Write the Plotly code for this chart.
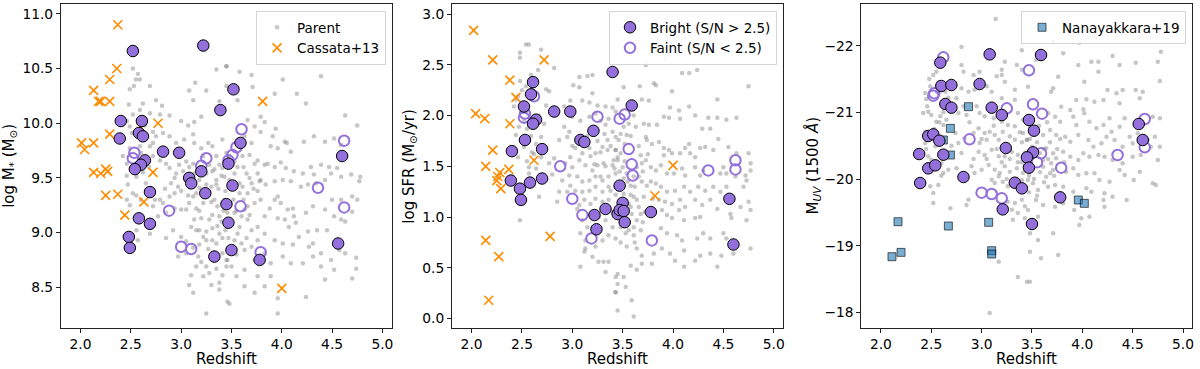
import plotly.graph_objects as go

# ---------------- Panel 1: stellar mass ----------------
parent_mass_pts = [
    (3.35,10.49),(3.45,10.52),(2.52,10.50),(2.57,10.45),(2.55,10.40),(2.59,10.40),(2.53,10.34),(2.49,10.31),
    (2.69,10.34),(3.14,10.37),(3.08,10.30),(3.25,10.30),(3.45,10.34),(3.38,10.20),(2.48,10.17),(2.62,10.18),
    (2.75,10.21),(2.81,10.16),(3.12,10.21),(2.59,10.12),(2.52,10.08),(2.69,10.09),(2.79,10.08),(2.885,10.07),
    (3.00,10.02),(3.07,9.98),(3.13,10.01),(3.20,10.06),(2.46,10.02),(2.49,9.97),(2.51,9.91),(2.555,9.89),
    (2.64,9.98),(2.72,9.92),(2.82,9.91),(2.75,9.88),(2.885,9.88),(2.95,9.82),(3.03,9.85),(3.12,9.90),
    (3.13,9.82),(3.20,9.77),(3.27,9.82),(3.31,9.79),(3.41,9.85),(3.35,9.70),(3.45,9.73),(2.95,9.74),
    (2.69,9.79),(2.72,9.82),(2.59,9.79),(2.49,9.77),(2.42,9.70),(2.46,9.63),(2.60,9.73),(2.72,9.70),
    (2.79,9.66),(2.85,9.63),(2.885,9.59),(2.95,9.54),(2.935,9.50),(3.02,9.56),(3.08,9.60),(3.12,9.63),
    (3.13,9.54),(3.18,9.48),(3.25,9.54),(3.31,9.56),(3.35,9.48),(3.41,9.59),(3.43,9.51),(3.35,9.44),
    (3.30,9.42),(3.25,9.44),(3.18,9.41),(3.15,9.36),(3.12,9.33),(3.07,9.34),(3.00,9.38),(2.97,9.42),
    (2.935,9.36),(2.885,9.33),(2.82,9.27),(2.79,9.30),(2.72,9.24),(2.74,9.30),(2.65,9.39),(2.60,9.30),
    (2.555,9.34),(2.47,9.44),(2.46,9.30),(2.49,9.25),(2.52,9.36),(2.46,9.52),(2.555,9.51),(2.65,9.45),
    (2.77,9.15),(2.85,9.18),(2.935,9.22),(3.00,9.21),(3.05,9.21),(3.08,9.27),(3.15,9.22),(3.22,9.27),
    (3.30,9.28),(3.36,9.24),(3.43,9.30),(3.46,9.18),(3.38,9.15),(3.31,9.16),(3.28,9.12),(3.20,9.13),
    (3.13,9.12),(3.10,9.05),(3.15,9.02),(3.18,9.02),(3.25,9.01),(3.31,9.04),(3.38,8.99),(3.41,8.95),
    (3.35,8.90),(3.31,8.93),(3.25,8.93),(3.18,8.89),(3.12,8.86),(3.05,8.92),(3.00,8.96),(2.92,9.02),
    (2.85,8.95),(2.57,8.93),(2.555,9.02),(2.69,8.99),(3.17,8.78),(3.20,8.73),(3.25,8.69),(3.28,8.63),
    (3.35,8.67),(3.41,8.61),(3.45,8.69),(3.38,8.54),(3.22,8.60),(3.15,8.69),(3.10,8.61),(3.08,8.52),
    (3.12,8.45),(3.46,8.37),(3.25,8.26),(3.30,8.52),(3.38,8.48),(3.45,8.75),(3.41,8.81),(3.05,8.81),
    (2.97,8.78),
    (3.45,10.52),(3.58,10.47),(3.70,10.44),(4.01,10.40),(4.39,10.43),(3.56,10.21),(3.71,10.33),(3.93,10.27),
    (4.15,10.27),(4.24,10.18),(4.63,10.07),(4.75,9.98),(3.94,9.95),(3.83,10.01),(3.79,10.06),(3.66,10.03),
    (3.73,9.97),(3.79,9.92),(3.91,9.88),(4.03,9.83),(4.05,9.82),(4.22,9.83),(4.32,9.88),(4.43,9.83),
    (4.52,9.86),(4.59,9.80),(3.96,9.77),(4.09,9.74),(3.89,9.79),(3.63,9.88),(3.70,9.82),(3.68,9.71),
    (3.61,9.70),(3.76,9.66),(3.73,9.63),(3.83,9.62),(3.86,9.63),(3.93,9.60),(3.99,9.64),(4.04,9.59),
    (4.12,9.56),(4.21,9.54),(4.29,9.60),(4.39,9.62),(4.47,9.60),(4.55,9.59),(4.59,9.51),(4.49,9.54),
    (4.43,9.48),(4.32,9.53),(4.34,9.45),(4.26,9.44),(4.19,9.42),(4.09,9.47),(4.01,9.48),(3.93,9.47),
    (3.84,9.44),(3.78,9.47),(3.70,9.45),(3.61,9.42),(3.58,9.36),(3.66,9.36),(3.76,9.38),(3.79,9.30),
    (3.73,9.27),(3.63,9.21),(3.60,9.15),(3.66,9.12),(3.70,9.02),(3.76,9.05),(3.83,9.15),(3.88,9.22),
    (3.93,9.30),(3.96,9.33),(3.99,9.27),(4.06,9.21),(4.11,9.22),(4.12,9.15),(4.03,9.12),(3.96,9.13),
    (4.07,9.05),(4.14,9.09),(4.24,9.18),(4.31,9.24),(4.43,9.21),(4.50,9.30),(4.59,9.30),(4.70,9.33),
    (4.75,9.30),(4.78,9.51),(4.77,9.47),(4.69,9.53),(4.70,9.19),(4.63,9.10),(4.59,9.12),(4.52,9.15),
    (4.45,9.02),(4.35,9.02),(4.26,9.01),(4.17,8.96),(4.11,8.89),(4.01,8.90),(3.93,8.93),(3.83,8.99),
    (3.76,8.93),(3.70,8.87),(3.63,8.84),(3.56,8.99),(3.53,8.93),(3.46,8.75),(3.50,8.69),(3.63,8.66),
    (3.73,8.75),(3.83,8.81),(3.89,8.72),(4.01,8.78),(4.09,8.72),(4.21,8.72),(4.31,8.78),(4.39,8.81),
    (4.39,8.69),(4.49,8.75),(4.57,8.84),(4.63,8.81),(4.74,8.67),(4.74,8.77),(4.70,8.58),(4.52,8.66),
    (4.43,8.57),(4.24,8.41),(3.96,8.40),(3.96,8.26),(3.83,8.51),(3.73,8.45),(3.63,8.51),(3.55,8.60),
    (3.48,8.35),(3.76,8.60),(3.89,8.60),(4.27,8.87),(4.31,8.90),(3.50,9.45),(3.53,9.54),(3.56,9.60),
    (3.48,9.70),(3.65,9.54),(3.76,9.54),(3.79,9.48),(3.53,9.18),(3.58,9.05),
    (3.22,9.70),(3.28,9.62),(3.33,9.58),(3.38,9.62),(3.40,9.52),(3.37,9.40),(3.44,9.38),(3.42,9.20),
    (3.40,9.10),(3.36,9.06),(3.44,9.02),(3.47,8.95),(3.33,8.82),(3.27,8.85),(3.22,8.96),(3.18,9.20),
    (3.10,9.43),(3.05,9.48),(3.27,9.35),(3.33,9.30),(3.48,9.48),(3.52,9.30),(3.55,9.20),(3.58,9.45),
    (3.62,9.30),(3.66,9.24),(3.68,9.16),(3.72,9.40),(3.53,9.65),(3.62,9.60),(3.68,9.50),(3.55,8.80),
    (3.60,8.90),(3.65,8.95),(3.05,9.65),(2.98,9.62),(2.90,9.45),(2.84,9.40),(2.62,9.55),(2.68,9.60),
]
bright_mass_pts = [
    (2.52,10.66),(3.22,10.71),(3.52,10.31),(3.39,10.12),(2.40,10.02),(2.61,10.02),(2.39,9.86),(2.58,9.91),
    (2.62,9.88),(3.59,9.82),(2.82,9.74),(2.98,9.73),(2.64,9.66),(2.60,9.62),(2.54,9.58),(3.47,9.63),
    (3.08,9.50),(3.10,9.45),(3.20,9.56),(3.51,9.43),(2.69,9.37),(3.24,9.36),(3.45,9.26),(2.58,9.13),
    (2.69,9.08),(3.47,9.09),(2.48,8.96),(2.49,8.86),(3.33,8.78),(3.50,8.84),(3.78,8.75),(4.60,9.70),
    (4.56,8.90),
]
faint_mass_pts = [
    (3.60,9.945),(4.62,9.84),(2.535,9.73),(2.52,9.68),(3.55,9.78),(3.51,9.71),(3.47,9.66),(3.25,9.68),
    (3.20,9.61),(2.88,9.20),(3.59,9.24),(4.36,9.41),(4.62,9.23),(3.00,8.87),(3.10,8.85),(3.79,8.82),
]
cassata_mass_pts = [
    (2.37,10.90),(2.36,10.50),(2.29,10.40),(2.13,10.30),(2.18,10.20),(2.20,10.20),(2.29,10.20),(2.77,10.00),
    (2.60,9.96),(2.29,9.90),(2.01,9.82),(2.04,9.76),(2.13,9.82),(2.13,9.55),(2.20,9.54),(2.25,9.58),
    (2.27,9.56),(2.72,9.55),(2.25,9.34),(2.37,9.35),(2.63,9.28),(2.44,9.16),(3.81,10.20),(4.00,8.49),
]

# ---------------- Panel 2: SFR ----------------
parent_sfr_pts = [
    (2.54,2.70),(2.57,2.70),(2.48,2.62),(2.48,2.57),(2.69,2.65),(2.82,2.47),(2.59,2.40),(2.48,2.34),
    (2.54,2.29),(2.74,2.26),(2.77,2.24),(3.07,2.38),(3.15,2.39),(3.20,2.40),(3.01,2.30),(3.07,2.28),
    (3.20,2.22),(3.45,2.16),(3.40,2.08),(3.33,2.09),(3.25,2.10),(3.17,2.13),(3.10,2.15),(2.98,2.15),
    (2.92,2.09),(2.44,2.16),(2.42,2.09),(2.46,2.19),(2.74,2.10),(2.67,2.00),(2.52,1.95),(2.47,1.89),
    (2.55,1.87),(2.44,1.81),(2.49,1.76),(2.59,1.80),(2.64,1.72),(2.69,1.79),(2.52,1.69),(2.60,1.64),
    (2.69,1.59),(2.46,1.59),(2.77,1.53),(2.82,1.58),(2.57,1.49),(2.64,1.48),(2.57,1.43),(2.92,1.89),
    (2.97,1.84),(2.95,1.79),(2.87,1.76),(3.00,1.99),(3.08,1.95),(3.17,1.99),(3.23,2.02),(3.28,1.95),
    (3.33,1.91),(3.36,1.97),(3.40,1.84),(3.43,1.79),(3.35,1.76),(3.30,1.69),(3.28,1.64),(3.35,1.66),
    (3.43,1.66),(3.23,1.63),(3.17,1.68),(3.10,1.63),(3.03,1.68),(2.98,1.59),(2.93,1.53),(3.00,1.49),
    (3.07,1.56),(3.13,1.51),(3.20,1.46),(3.25,1.51),(3.31,1.53),(3.40,1.51),(3.45,1.56),(3.43,1.43),
    (3.36,1.40),(3.30,1.36),(3.23,1.40),(3.17,1.36),(3.10,1.35),(3.05,1.40),(2.97,1.41),(2.90,1.36),
    (2.98,1.31),(3.03,1.26),(3.10,1.25),(3.17,1.26),(3.23,1.30),(3.30,1.25),(3.38,1.26),(3.43,1.22),
    (3.36,1.17),(3.30,1.15),(3.23,1.18),(3.18,1.13),(3.12,1.17),(3.07,1.12),(2.87,1.25),(2.85,1.15),
    (2.67,1.20),(2.72,1.36),(2.48,0.97),(3.10,0.97),(3.15,0.90),(3.08,0.84),(3.13,0.77),(3.26,1.00),
    (3.33,0.97),(3.40,0.90),(3.36,0.82),(3.43,0.79),(3.30,0.77),(3.23,0.71),(3.13,0.69),(3.20,0.61),
    (3.12,0.66),(3.08,0.51),(3.26,0.56),(3.31,0.56),(3.36,0.56),(3.33,0.46),(3.43,0.41),(3.45,0.34),
    (3.43,0.26),(3.45,0.08),
    (3.73,2.50),(3.92,2.56),(4.16,2.42),(4.24,2.45),(4.09,2.42),(3.81,2.32),(3.83,2.30),(3.67,2.29),
    (3.51,2.28),(3.99,2.24),(4.75,2.29),(3.69,2.16),(3.76,2.15),(4.44,2.16),(3.97,2.08),(4.06,2.05),
    (4.16,2.09),(3.43,2.04),(3.61,2.00),(3.91,1.99),(3.96,1.98),(4.35,1.98),(4.44,1.98),(4.53,1.96),
    (4.63,1.98),(4.07,1.97),(4.22,2.00),(3.56,1.92),(3.63,1.89),(3.71,1.92),(3.76,1.91),(3.51,1.89),
    (3.84,1.91),(4.29,1.87),(4.37,1.87),(4.45,1.77),(3.48,1.82),(3.54,1.81),(3.46,1.76),(3.73,1.79),
    (3.74,1.76),(3.79,1.72),(3.86,1.74),(3.91,1.68),(3.96,1.66),(3.99,1.63),(3.91,1.61),(4.07,1.63),
    (4.12,1.68),(4.16,1.72),(4.17,1.63),(4.22,1.59),(4.27,1.68),(4.32,1.69),(4.40,1.66),(4.55,1.69),
    (4.63,1.63),(4.75,1.63),(3.43,1.66),(3.48,1.63),(3.41,1.56),(3.68,1.61),(3.69,1.53),(3.64,1.49),
    (3.73,1.56),(3.78,1.49),(3.83,1.46),(3.88,1.51),(3.94,1.43),(4.01,1.43),(4.09,1.48),(4.12,1.41),
    (4.22,1.49),(4.27,1.41),(4.30,1.46),(4.47,1.43),(4.50,1.49),(4.53,1.43),(4.62,1.40),(4.72,1.41),
    (4.77,1.46),(4.77,1.53),(3.51,1.38),(3.61,1.40),(3.69,1.35),(3.58,1.31),(3.74,1.31),(3.83,1.33),
    (3.88,1.30),(3.94,1.25),(4.02,1.26),(4.11,1.30),(4.17,1.25),(4.25,1.30),(4.32,1.26),(4.40,1.30),
    (4.47,1.25),(4.53,1.30),(4.70,1.30),(4.73,1.36),(3.61,1.20),(3.64,1.17),(3.71,1.20),(3.86,1.17),
    (3.92,1.15),(3.99,1.13),(4.07,1.17),(4.12,1.10),(4.22,1.17),(4.29,1.12),(4.37,1.17),(4.44,1.08),
    (4.67,1.10),(4.75,1.15),(4.77,1.07),(3.58,1.10),(3.59,1.03),(3.68,1.03),(3.64,0.97),(3.89,1.07),
    (3.94,1.02),(3.99,0.99),(4.06,1.07),(4.11,0.97),(4.22,0.99),(4.27,1.00),(4.58,0.99),(4.57,1.03),
    (4.73,0.97),(3.48,0.90),(3.56,0.87),(3.61,0.82),(3.68,0.87),(3.88,0.89),(3.94,0.84),(4.04,0.82),
    (4.09,0.77),(4.24,0.79),(4.30,0.84),(4.37,0.79),(4.50,0.84),(4.53,0.79),(4.77,0.69),(3.54,0.71),
    (3.64,0.69),(3.69,0.62),(3.81,0.64),(3.89,0.69),(3.97,0.64),(4.11,0.67),(4.27,0.62),(4.37,0.64),
    (4.48,0.62),(4.60,0.64),(3.58,0.52),(3.69,0.54),(3.79,0.54),(4.02,0.57),(4.22,0.57),(4.44,0.51),
    (4.11,0.51),(3.45,0.44),(3.51,0.41),(3.64,0.48),(3.53,0.31),(3.43,0.26),(3.59,0.18),(3.61,0.02),
    (3.45,1.59),(3.50,1.49),(3.54,1.43),(3.43,1.30),(3.51,1.23),(3.56,1.13),(3.46,1.00),(3.53,0.84),
    (3.61,0.90),
    (3.38,1.70),(3.42,1.48),(3.47,1.45),(3.52,1.55),(3.55,1.35),(3.58,1.22),(3.62,1.30),(3.66,1.40),
    (3.70,1.45),(3.66,1.10),(3.72,1.05),(3.70,0.95),(3.62,0.75),(3.56,0.95),(3.48,0.75),(3.40,1.05),
    (3.36,1.30),(3.33,1.50),(3.28,1.40),(3.22,1.52),(3.18,1.60),(3.15,1.80),(3.25,1.75),(3.32,1.82),
    (3.52,1.72),(3.58,1.80),(3.66,1.70),(3.75,1.62),(3.78,1.35),(3.80,1.18),(3.05,1.08),(3.00,1.70),
    (2.95,1.25),(2.80,1.42),(2.62,1.62),(2.55,1.55),(2.50,2.25),(2.56,2.05),(2.66,2.45),(2.72,1.92),
]
bright_sfr_pts = [
    (3.40,2.43),(2.61,2.33),(2.59,2.21),(2.52,2.09),(3.59,2.10),(2.82,2.04),(2.98,2.04),(2.64,1.96),
    (2.61,1.92),(2.53,1.76),(3.21,1.85),(3.08,1.76),(3.12,1.74),(2.40,1.65),(2.70,1.67),(2.39,1.36),
    (2.70,1.38),(2.58,1.34),(2.48,1.28),(2.49,1.17),(3.47,1.31),(3.50,1.14),(3.33,1.08),(3.45,1.03),
    (3.47,1.07),(3.51,1.06),(3.22,1.02),(3.78,1.05),(3.24,0.88),(3.52,0.95),(4.56,1.18),(4.60,0.73),
]
faint_sfr_pts = [
    (2.62,2.19),(2.52,1.98),(2.53,2.02),(3.25,1.99),(3.47,1.97),(3.52,2.01),(3.56,1.67),(3.59,1.52),
    (3.60,1.41),(2.88,1.50),(3.00,1.18),(3.10,1.02),(3.19,0.79),(3.79,0.77),(4.35,1.46),(4.62,1.56),
    (4.62,1.47),
]
cassata_sfr_pts = [
    (2.02,2.84),(2.21,2.55),(2.72,2.55),(2.38,2.35),(2.44,2.18),(2.04,2.02),(2.13,1.97),(2.38,1.92),
    (2.21,1.66),(2.14,1.50),(2.37,1.47),(2.28,1.44),(2.26,1.40),(2.25,1.36),(2.29,1.28),(2.62,1.56),
    (2.14,0.77),(2.27,0.61),(2.17,0.18),(2.78,0.81),(4.00,1.51),(3.82,1.21),
]

# ---------------- Panel 3: M_UV ----------------
parent_muv_pts = [
    (3.14,-22.40),(2.80,-21.98),(3.40,-21.93),(3.23,-21.76),(2.80,-21.71),(2.82,-21.61),(2.98,-21.61),
    (2.92,-21.56),(3.20,-21.64),(3.20,-21.56),(3.23,-21.46),(3.15,-21.54),(3.35,-21.71),(3.40,-21.64),
    (2.52,-21.56),(2.48,-21.50),(2.55,-21.61),(2.49,-21.39),(2.44,-21.29),(2.45,-21.20),(2.64,-21.31),
    (2.67,-21.22),(2.75,-21.21),(2.80,-21.36),(2.87,-21.31),(2.93,-21.34),(3.05,-21.39),(3.10,-21.31),
    (3.20,-21.21),(3.33,-21.34),(3.33,-21.19),(2.46,-21.09),(2.47,-21.01),(2.50,-20.96),(2.42,-20.99),
    (2.59,-20.94),(2.55,-20.86),(2.62,-20.81),(2.65,-20.89),(2.77,-20.99),(2.82,-21.09),(2.85,-20.96),
    (2.95,-21.09),(2.98,-20.99),(3.03,-20.94),(3.12,-20.91),(3.20,-20.86),(3.26,-20.81),(3.33,-20.79),
    (3.36,-20.99),(3.41,-20.89),(2.44,-20.71),(2.49,-20.64),(2.44,-20.54),(2.54,-20.49),(2.47,-20.34),
    (2.50,-20.29),(2.74,-20.69),(2.77,-20.54),(2.80,-20.39),(2.83,-20.61),(2.92,-20.69),(2.97,-20.76),
    (3.03,-20.69),(3.08,-20.71),(2.98,-20.54),(3.05,-20.59),(3.13,-20.66),(3.17,-20.59),(3.21,-20.71),
    (3.28,-20.64),(3.33,-20.59),(3.41,-20.69),(3.45,-20.59),(2.97,-20.41),(3.03,-20.36),(3.10,-20.44),
    (3.17,-20.34),(3.23,-20.34),(3.30,-20.41),(3.36,-20.36),(3.43,-20.39),(2.60,-20.24),(2.62,-20.09),
    (2.67,-20.14),(2.75,-20.16),(2.90,-20.19),(2.93,-20.09),(3.00,-20.14),(3.07,-20.21),(3.13,-20.14),
    (3.18,-20.09),(3.23,-20.19),(3.28,-20.11),(3.35,-20.16),(3.41,-20.09),(3.10,-19.99),(3.13,-19.94),
    (3.17,-20.04),(3.21,-19.96),(3.26,-19.89),(3.31,-19.99),(3.38,-19.89),(2.49,-19.89),(2.52,-19.79),
    (2.57,-19.91),(2.52,-19.64),(2.69,-19.56),(2.87,-19.69),(2.85,-19.61),(3.26,-19.66),(3.33,-19.64),
    (3.40,-19.69),(3.43,-19.59),(3.30,-19.54),(3.36,-19.49),(3.31,-19.39),(3.43,-19.41),(3.17,-18.76),
    (3.36,-18.53),(3.45,-18.46),(3.08,-17.99),
    (3.92,-22.21),(4.12,-22.135),(3.71,-22.06),(3.97,-22.045),(3.81,-21.885),(3.54,-21.785),(4.09,-21.76),
    (4.16,-21.76),(3.96,-21.71),(4.30,-21.845),(4.37,-21.71),(4.53,-21.745),(4.75,-21.76),(4.78,-21.91),
    (3.76,-21.535),(4.16,-21.61),(4.02,-21.46),(4.77,-21.47),(3.46,-21.385),(3.71,-21.36),(3.69,-21.31),
    (4.25,-21.335),(4.34,-21.285),(4.40,-21.335),(4.53,-21.335),(4.60,-21.31),(3.94,-21.185),(4.04,-21.195),
    (4.12,-21.16),(4.21,-21.185),(3.79,-21.085),(3.88,-21.035),(4.01,-21.045),(4.37,-21.135),(4.57,-21.21),
    (4.70,-20.935),(4.77,-20.91),(3.66,-20.985),(3.73,-20.935),(3.78,-20.86),(3.91,-20.935),(3.94,-20.81),
    (4.02,-20.985),(4.07,-20.86),(4.14,-20.76),(4.21,-20.81),(4.27,-20.91),(4.29,-20.71),(4.37,-20.785),
    (4.42,-20.91),(3.48,-20.785),(3.54,-20.71),(3.61,-20.66),(3.68,-20.735),(3.74,-20.66),(3.83,-20.635),
    (3.88,-20.56),(3.96,-20.66),(4.06,-20.585),(4.11,-20.485),(4.19,-20.535),(4.24,-20.635),(4.32,-20.585),
    (4.40,-20.485),(4.47,-20.635),(4.50,-20.535),(4.55,-20.685),(4.65,-20.585),(4.68,-20.485),(4.72,-20.635),
    (4.77,-20.485),(3.64,-20.46),(3.71,-20.385),(3.74,-20.31),(3.81,-20.41),(3.88,-20.335),(3.96,-20.285),
    (4.01,-20.385),(4.07,-20.335),(4.16,-20.36),(4.22,-20.335),(4.30,-20.285),(4.40,-20.235),(4.50,-20.335),
    (4.58,-20.36),(4.75,-20.285),(3.61,-20.185),(3.68,-20.085),(3.71,-20.135),(3.84,-20.11),(3.91,-20.16),
    (3.96,-20.06),(4.04,-20.085),(4.12,-20.085),(4.17,-19.985),(4.27,-19.96),(4.37,-20.135),(4.42,-20.06),
    (4.51,-19.985),(4.57,-20.11),(4.70,-19.935),(4.73,-19.91),(3.51,-19.935),(3.56,-19.835),(3.66,-19.885),
    (3.73,-19.91),(3.81,-19.885),(3.91,-19.81),(4.04,-19.86),(4.09,-19.81),(4.22,-19.785),(4.30,-19.735),
    (4.44,-19.685),(3.54,-19.685),(3.61,-19.61),(3.73,-19.585),(3.81,-19.635),(3.92,-19.535),(3.99,-19.41),
    (4.07,-19.435),(4.21,-19.685),(4.22,-19.585),(3.46,-19.535),(3.56,-19.435),(3.48,-19.185),(3.56,-19.085),
    (3.71,-19.185),(3.59,-18.81),(3.76,-18.86),(3.48,-18.46),(3.97,-19.31),(3.48,-18.91),(3.45,-20.585),
    (3.50,-20.485),(3.58,-20.385),(3.61,-20.285),(3.69,-20.235),(3.51,-20.185),(3.64,-20.035),(3.46,-19.985),
    (3.36,-20.25),(3.40,-20.55),(3.43,-20.20),(3.47,-20.05),(3.52,-20.00),(3.55,-20.55),(3.58,-20.10),
    (3.62,-19.95),(3.66,-20.30),(3.68,-20.55),(3.72,-20.05),(3.75,-20.45),(3.62,-20.45),(3.55,-19.75),
    (3.47,-19.80),(3.40,-19.98),(3.38,-20.70),(3.28,-20.30),(3.25,-20.00),(3.20,-20.25),(3.15,-20.45),
    (3.12,-20.80),(3.05,-20.30),(3.00,-20.60),(3.57,-20.80),(3.65,-20.85),(3.78,-20.60),(3.82,-20.25),
    (2.58,-20.85),(2.53,-20.75),(2.57,-21.45),(2.62,-21.00),(2.56,-21.30),(2.45,-20.45),(2.60,-20.05),
    (2.70,-20.50),(2.88,-20.85),(2.92,-20.30),(3.40,-20.25),(3.48,-20.60),
]
bright_muv_pts = [
    (3.08,-21.87),(3.59,-21.86),(2.59,-21.745),(2.60,-21.395),(2.70,-21.41),(2.98,-21.425),(2.64,-21.125),
    (2.70,-21.07),(3.10,-21.07),(3.20,-20.96),(3.47,-20.885),(3.52,-20.725),(4.56,-20.825),(4.60,-20.585),
    (2.47,-20.645),(2.52,-20.67),(2.58,-20.575),(2.38,-20.375),(2.62,-20.365),(3.24,-20.465),(3.51,-20.40),
    (3.45,-20.325),(3.47,-20.17),(2.47,-20.16),(2.54,-20.205),(2.39,-19.94),(2.82,-20.03),(3.33,-19.945),
    (3.40,-19.86),(3.78,-19.725),(3.21,-19.545),(3.50,-19.325),
]
faint_muv_pts = [
    (2.62,-21.825),(3.47,-21.63),(2.53,-21.285),(2.52,-21.25),(3.25,-21.06),(3.51,-21.12),(3.60,-20.98),
    (4.62,-20.90),(4.62,-20.475),(2.88,-20.595),(3.59,-20.385),(3.55,-20.25),(3.79,-20.17),(4.35,-20.36),
    (3.00,-19.795),(3.10,-19.775),(3.20,-19.71),
]
nanayakkara_muv_pts = [
    (2.87,-21.085),(2.69,-20.76),(2.62,-20.585),(2.69,-20.36),(2.17,-19.36),(2.11,-18.835),(2.20,-18.90),
    (2.67,-19.295),(3.07,-19.35),(3.10,-18.925),(3.10,-18.875),(3.96,-19.685),(4.02,-19.635),
]

x_ticks = [2.0, 2.5, 3.0, 3.5, 4.0, 4.5, 5.0]
mass_ticks = [8.5, 9.0, 9.5, 10.0, 10.5, 11.0]
sfr_ticks = [0.0, 0.5, 1.0, 1.5, 2.0, 2.5, 3.0]
muv_ticks = [-22, -21, -20, -19, -18]
muv_tick_text = ["\u221222", "\u221221", "\u221220", "\u221219", "\u221218"]

# ---------------- styling ----------------
FONT = "DejaVu Sans"
PURPLE = "#9370DB"
ORANGE = "#FF8C00"
PARENT = "rgba(128,128,128,0.45)"


def xy(pts):
    return [p[0] for p in pts], [p[1] for p in pts]


fig = go.Figure()


def add_panel(idx, parent, bright, faint, extra, extra_kind):
    xa = "x" if idx == 1 else f"x{idx}"
    ya = "y" if idx == 1 else f"y{idx}"
    px, py = xy(parent)
    fig.add_trace(go.Scatter(x=px, y=py, mode="markers", xaxis=xa, yaxis=ya,
                             name="Parent", legend="legend", showlegend=(idx == 1), legendrank=1,
                             marker=dict(size=4.5, color=PARENT, line=dict(width=0))))
    if extra is not None:
        ex, ey = xy(extra)
        if extra_kind == "cassata":
            fig.add_trace(go.Scatter(x=ex, y=ey, mode="markers", xaxis=xa, yaxis=ya,
                                     name="Cassata+13", legend="legend", showlegend=(idx == 1),
                                     legendrank=2,
                                     marker=dict(symbol="x-thin", size=9, color=ORANGE,
                                                 line=dict(width=1.6, color=ORANGE))))
        else:
            fig.add_trace(go.Scatter(x=ex, y=ey, mode="markers", xaxis=xa, yaxis=ya,
                                     name="Nanayakkara+19", legend="legend3", showlegend=True,
                                     marker=dict(symbol="square", size=8,
                                                 color="rgba(31,119,180,0.6)",
                                                 line=dict(width=1, color="rgba(0,0,0,0.6)"))))
    fx, fy = xy(faint)
    fig.add_trace(go.Scatter(x=fx, y=fy, mode="markers", xaxis=xa, yaxis=ya,
                             name="Faint (S/N < 2.5)", legend="legend2", showlegend=(idx == 2),
                             legendrank=2,
                             marker=dict(symbol="circle-open", size=10.5, color=PURPLE,
                                         line=dict(width=2, color=PURPLE))))
    bx, by = xy(bright)
    fig.add_trace(go.Scatter(x=bx, y=by, mode="markers", xaxis=xa, yaxis=ya,
                             name="Bright (S/N > 2.5)", legend="legend2", showlegend=(idx == 2),
                             legendrank=1,
                             marker=dict(symbol="circle", size=11.5, color=PURPLE,
                                         line=dict(width=1, color="black"))))


add_panel(1, parent_mass_pts, bright_mass_pts, faint_mass_pts, cassata_mass_pts, "cassata")
add_panel(2, parent_sfr_pts, bright_sfr_pts, faint_sfr_pts, cassata_sfr_pts, "cassata")
add_panel(3, parent_muv_pts, bright_muv_pts, faint_muv_pts, nanayakkara_muv_pts, "nan")

W, H = 1200, 369
y_dom = [(H - 327.7) / H, (H - 4) / H]
x_doms = [[61 / W, 392.3 / W], [452.7 / W, 784.3 / W], [862.7 / W, 1194.3 / W]]
x_rng = [1.805, 5.092]

axis_common = dict(showline=True, linecolor="#222222", linewidth=1, mirror=True,
                   ticks="outside", ticklen=4, tickwidth=1, tickcolor="#222222",
                   showgrid=False, zeroline=False,
                   tickfont=dict(family=FONT, size=13.8, color="black"))

layout = dict(
    width=W, height=H, margin=dict(l=0, r=0, t=0, b=0),
    paper_bgcolor="white", plot_bgcolor="white",
    font=dict(family=FONT, color="black"),
    hovermode=False,
)
for i in range(3):
    k = "" if i == 0 else str(i + 1)
    layout["xaxis" + k] = dict(axis_common, domain=x_doms[i], range=x_rng, anchor="y" + k,
                               tickvals=x_ticks, tickformat=".1f")
layout["yaxis"] = dict(axis_common, domain=y_dom, range=[8.13, 11.09], anchor="x",
                       tickvals=mass_ticks, tickformat=".1f")
layout["yaxis2"] = dict(axis_common, domain=y_dom, range=[-0.09, 3.10], anchor="x2",
                        tickvals=sfr_ticks, tickformat=".1f")
layout["yaxis3"] = dict(axis_common, domain=y_dom, range=[-17.77, -22.625], anchor="x3",
                        tickvals=muv_ticks, ticktext=muv_tick_text)

legend_common = dict(xanchor="right", yanchor="top", xref="paper", yref="paper",
                     bgcolor="rgba(255,255,255,0.85)", bordercolor="#d5d5d5", borderwidth=1,
                     font=dict(family=FONT, size=13.5, color="black"),
                     traceorder="normal", itemwidth=30, tracegroupgap=0)
layout["legend"] = dict(legend_common, x=386.7 / W, y=(H - 11) / H)
layout["legend2"] = dict(legend_common, x=778.3 / W, y=(H - 11) / H)
layout["legend3"] = dict(legend_common, x=1188 / W, y=(H - 11) / H)

title_font = dict(family=FONT, size=15, color="black")
yc = (H - (4 + 327.7) / 2) / H
annotations = []
for xc in [226.7, 618.5, 1028.5]:
    annotations.append(dict(text="Redshift", x=xc / W, y=(H - 359) / H, xref="paper", yref="paper",
                            showarrow=False, xanchor="center", yanchor="middle", font=title_font))
annotations.append(dict(text="log M<sub>*</sub> (M<sub>\u2299</sub>)", x=10 / W, y=yc,
                        xref="paper", yref="paper", showarrow=False, textangle=-90,
                        xanchor="center", yanchor="middle", font=title_font))
annotations.append(dict(text="log SFR (M<sub>\u2299</sub>/yr)", x=410.5 / W, y=yc,
                        xref="paper", yref="paper", showarrow=False, textangle=-90,
                        xanchor="center", yanchor="middle", font=title_font))
annotations.append(dict(text="M<sub><i>UV</i></sub> (1500 <i>\u00c5</i>)", x=814 / W, y=yc,
                        xref="paper", yref="paper", showarrow=False, textangle=-90,
                        xanchor="center", yanchor="middle", font=title_font))
layout["annotations"] = annotations

fig.update_layout(**layout)
fig.write_html("out.html", config={"displayModeBar": False},
               post_script="document.body.style.margin='0';document.body.style.padding='0';"
                           "document.body.style.overflow='hidden';")
